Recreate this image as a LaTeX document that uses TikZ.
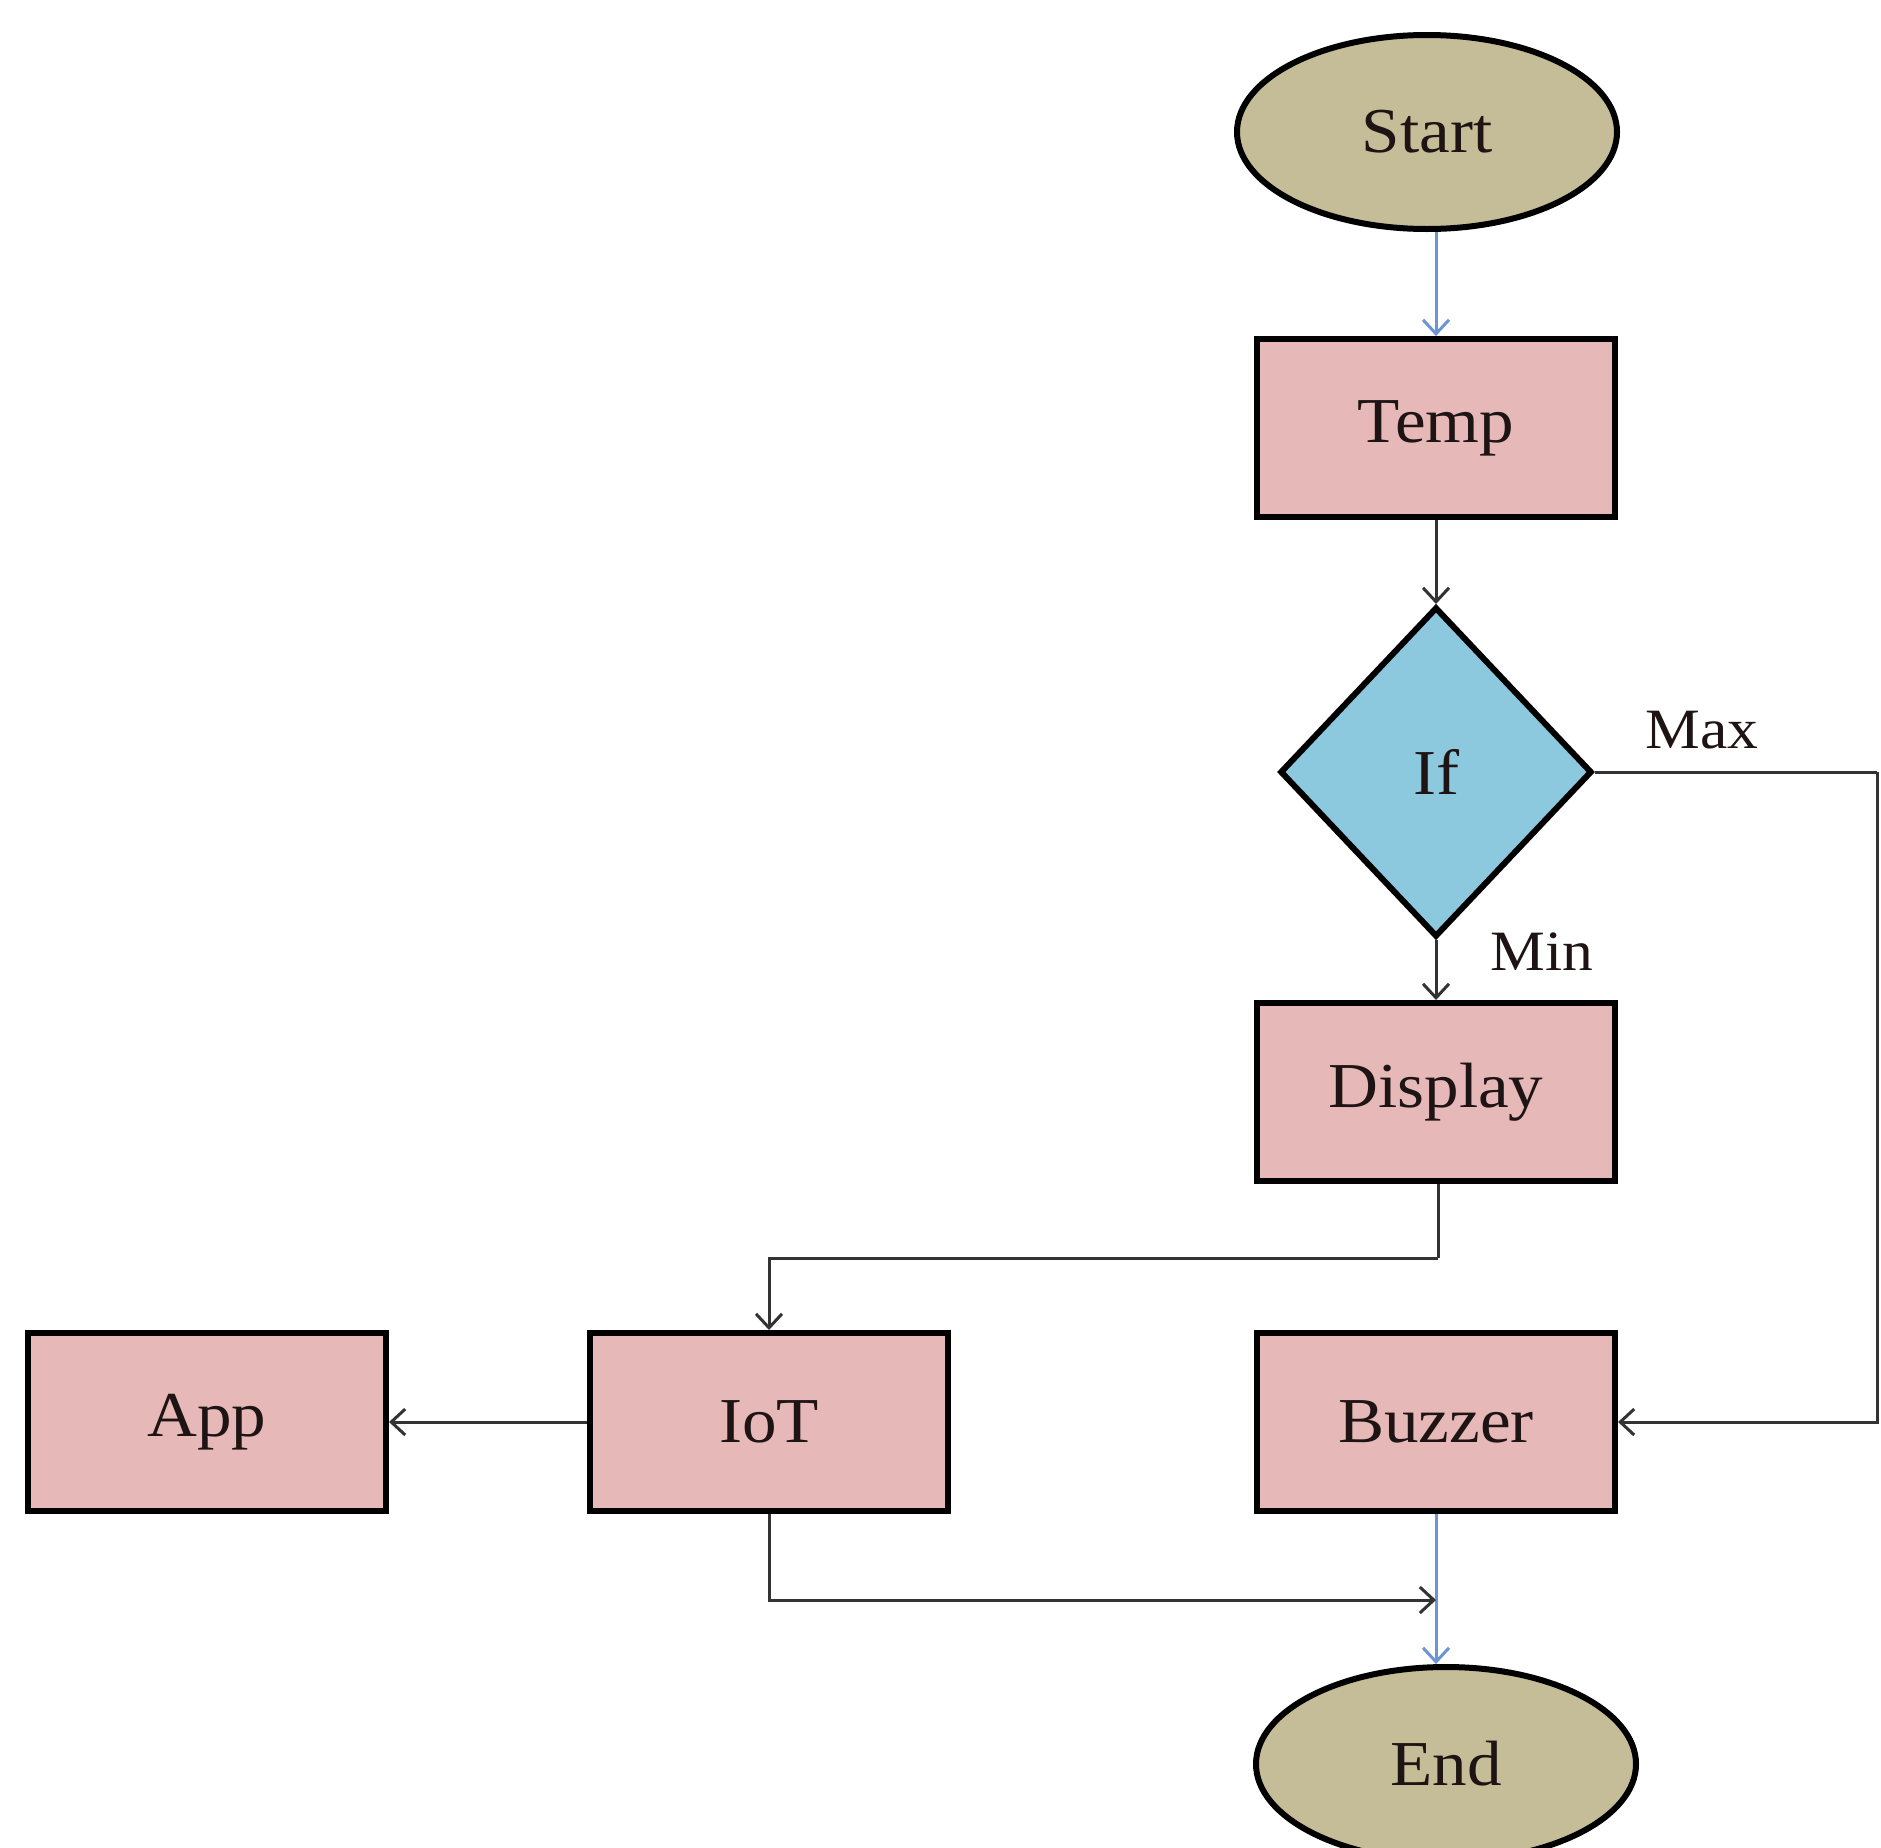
\documentclass[tikz,border=0pt]{standalone}
\usepackage{fontspec}
\setmainfont[FakeStretch=1.08]{Liberation Serif}
\usetikzlibrary{shapes.geometric,arrows.meta}
\definecolor{tanfill}{HTML}{C4BD97}
\definecolor{pinkfill}{HTML}{E6B9B8}
\definecolor{bluefill}{HTML}{8DC9DE}
\definecolor{bluearrow}{HTML}{6C95D2}
\definecolor{linegray}{HTML}{333333}
\definecolor{textdark}{HTML}{1E1414}
\tikzset{
  term/.style={ellipse, draw=black, line width=6pt, fill=tanfill, minimum width=380pt, minimum height=194pt, inner sep=0pt, text=textdark, font=\fontsize{64}{72}\selectfont},
  procbox/.style={rectangle, draw=black, line width=6pt, fill=pinkfill, minimum width=358pt, minimum height=178pt, inner sep=0pt, text=textdark, font=\fontsize{64}{72}\selectfont},
  decide/.style={diamond, draw=black, line width=6pt, fill=bluefill, minimum width=312pt, minimum height=330pt, inner sep=0pt, text=textdark, font=\fontsize{64}{72}\selectfont},
  conn/.style={draw=linegray, line width=3pt, -{Straight Barb[length=14pt,width=26pt,line width=3pt]}},
  bconn/.style={draw=bluearrow, line width=3pt, -{Straight Barb[length=14pt,width=26pt,line width=3pt]}},
  plainconn/.style={draw=linegray, line width=3pt},
  lbl/.style={font=\fontsize{57}{64}\selectfont, inner sep=0pt, text=textdark}
}
\begin{document}
\begin{tikzpicture}[x=1pt,y=-1pt]
\useasboundingbox (0,0) rectangle (1881,1847);
\fill[white] (0,0) rectangle (1881,1847);
\begin{scope}
\clip (0,0) rectangle (1881,1847);
\node[term] (start) at (1427,132) {Start};
\node[procbox] (temp) at (1436,428) {Temp};
\node[decide] (if) at (1436,772) {If};
\node[procbox] (display) at (1436,1092) {Display};
\node[procbox] (app) at (207,1422) {App};
\node[procbox] (iot) at (769,1422) {IoT};
\node[procbox] (buzzer) at (1436,1422) {Buzzer};
\node[term] (end) at (1446,1764) {End};
\node[lbl] (maxl) at (1702,730) {Max};
\node[lbl] (minl) at (1542,952) {Min};
\coordinate (maxc) at (1877,772);
\coordinate (dispc) at (1438,1258);
\coordinate (joinc) at (1436,1600);

\draw[bconn] (start.south -| temp.north) -- (temp.north);
\draw[conn] (temp.south) -- (if.north);
\draw[conn] (if.south) -- (display.north);
\draw[plainconn] (if.east) -- (maxc);
\draw[conn] (maxc) |- (buzzer.east);
\draw[plainconn] (display.south -| dispc) -- (dispc);
\draw[conn] (dispc) -| (iot.north);
\draw[conn] (iot.west) -- (app.east);
\draw[bconn] (buzzer.south) -- (buzzer.south |- end.north);
\draw[conn] (iot.south) |- (joinc);
\end{scope}
\end{tikzpicture}
\end{document}
